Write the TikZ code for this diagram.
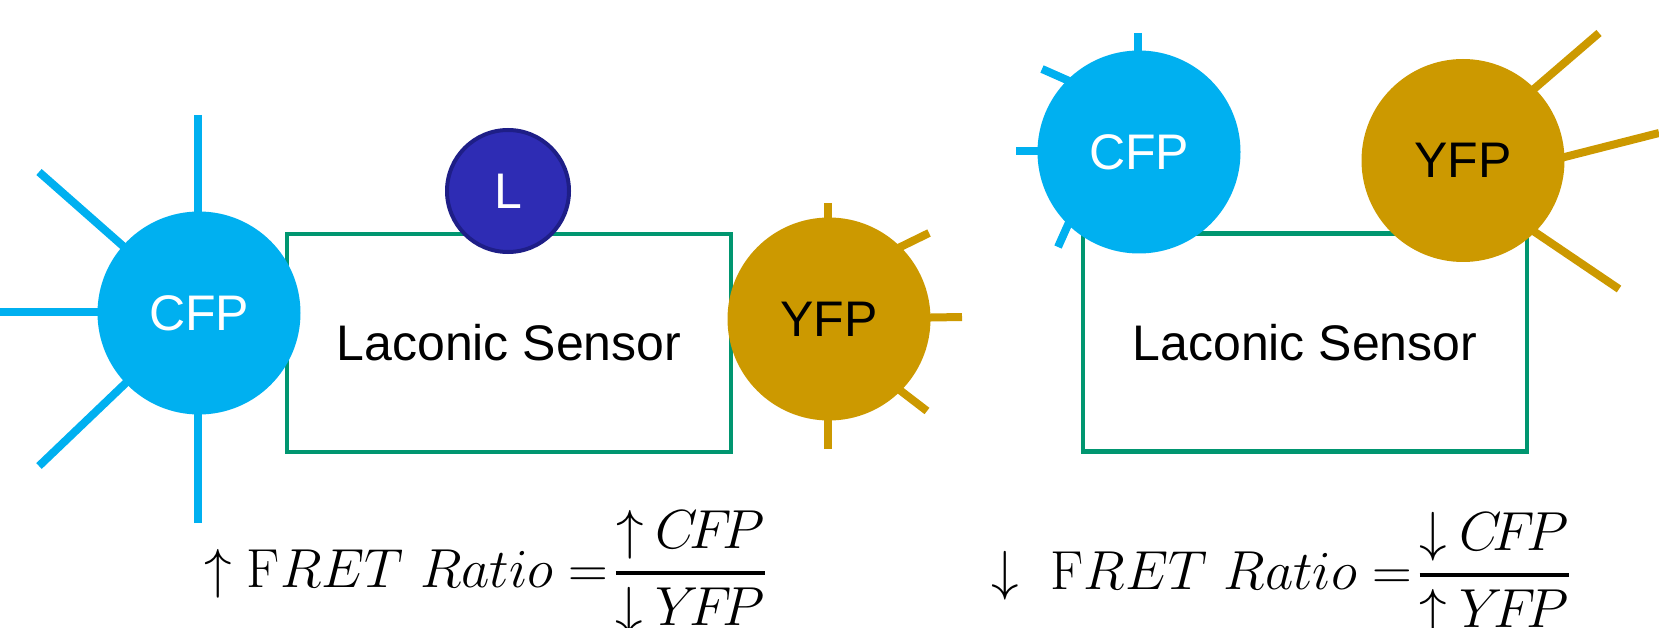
\RequirePackage{fix-cm}
\documentclass[tikz,border=0pt]{standalone}
\usepackage{amsmath}
\usepackage{fontspec}
\newfontfamily\arial{Liberation Sans}
\definecolor{cfp}{RGB}{0,176,240}
\definecolor{yfp}{RGB}{204,153,0}
\definecolor{sens}{RGB}{0,150,112}
\definecolor{lig}{RGB}{46,44,180}
\definecolor{ligb}{RGB}{30,30,135}
\DeclareMathSizes{55}{55}{40}{30}
\newcommand{\tk}{\mkern-3mu}
\begin{document}
\begin{tikzpicture}[x=1pt,y=-1pt,
  lbl/.style={font=\arial\fontsize{50}{60}\selectfont},
  sensor/.style={draw=sens, line width=4.5pt, minimum width=444pt, minimum height=218pt, inner sep=0pt, lbl, text=black},
  fp/.style={circle, inner sep=0pt, minimum size=203pt, lbl},
  cfpn/.style={fp, fill=cfp, text=white},
  yfpn/.style={fp, fill=yfp, text=black},
  cray/.style={draw=cfp, line width=8pt},
  yray/.style={draw=yfp, line width=8pt},
  lign/.style={circle, fill=lig, draw=ligb, line width=4pt, minimum size=122pt, inner sep=0pt, lbl, text=white},
  eq/.style={font=\fontsize{55}{66}\selectfont, inner sep=0pt}
]
\useasboundingbox (0,0) rectangle (1659,628);
\clip (0,0) rectangle (1659,628);

% sensors
\node[sensor] (s1) at (509,343) {Laconic Sensor};
\node[sensor] (s2) at (1305,342.5) {Laconic Sensor};

% rays left CFP
\draw[cray] (198,115) -- (198,313);
\draw[cray] (198,523) -- (198,313);
\draw[cray] (0,312) -- (199,312);
\draw[cray] (39,172) -- (199,313);
\draw[cray] (39,466) -- (199,313);
% rays left YFP
\draw[yray] (828,203) -- (828,319);
\draw[yray] (828,449) -- (828,319);
\draw[yray] (929,233) -- (882,256);
\draw[yray] (962,317) -- (900,318);
\draw[yray] (927,411) -- (884,378);
% rays right CFP
\draw[cray] (1138,33) -- (1138,152);
\draw[cray] (1042,69) -- (1085,88);
\draw[cray] (1016,151) -- (1100,151);
\draw[cray] (1058,247) -- (1075,209);
% rays right YFP
\draw[yray] (1599,33) -- (1520,101);
\draw[yray] (1659,133) -- (1545,162);
\draw[yray] (1619,289) -- (1520,222);

% fluorophores
\node[cfpn] (c1) at (199,313) {CFP};
\node[lign] (l1) at (508,191) {L};
\node[yfpn] (y1) at (829,319) {YFP};
\node[cfpn] (c2) at (1139,152) {CFP};
\node[yfpn] (y2) at (1463,160.5) {YFP};

% equations
\node[eq, anchor=base west] (e1) at (204,587)
  {$\uparrow \mathrm{F}RET\ Ratio = \mkern-3mu\genfrac{}{}{4pt}{0}{{\uparrow}\mkern4mu C\tk F\tk P}{{\downarrow}\mkern4mu Y\tk F\tk P}$};
\node[eq, anchor=base west] (e2) at (991,589)
  {$\downarrow\ \mathrm{F}RET\ Ratio = \mkern-3mu\genfrac{}{}{4pt}{0}{{\downarrow}\mkern4mu C\tk F\tk P}{{\uparrow}\mkern4mu Y\tk F\tk P}$};
\end{tikzpicture}
\end{document}
